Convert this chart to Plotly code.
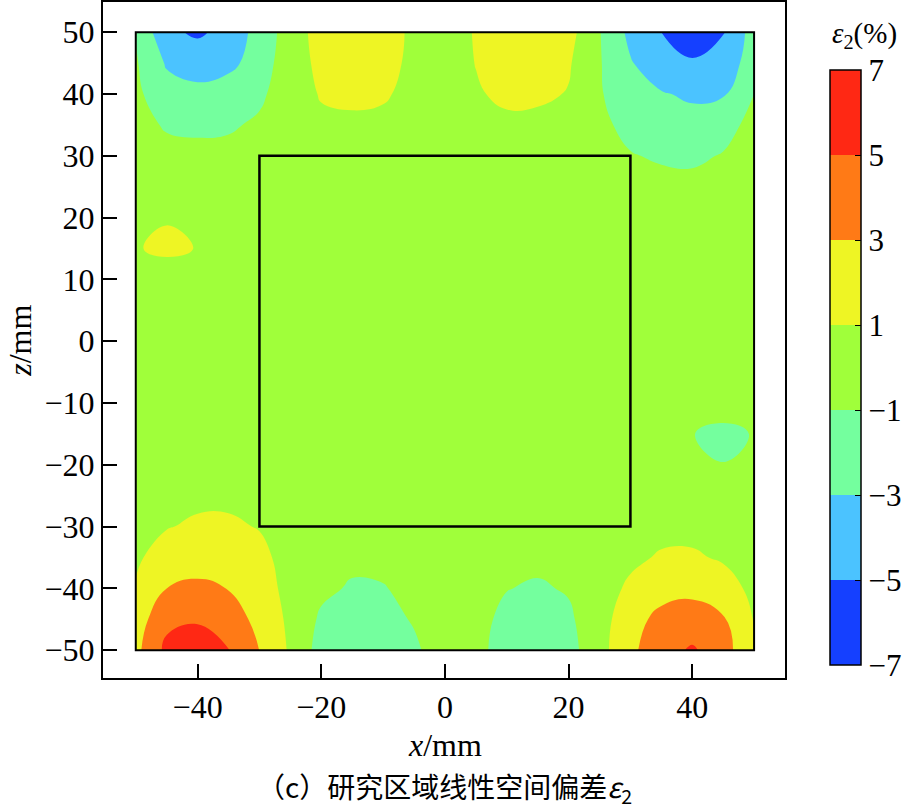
import plotly.graph_objects as go

# grid of the sample cross-section, mm
x_mm = [-50, -45, -40, -35, -30, -25, -20, -15, -10, -5, 0, 5, 10, 15, 20, 25, 30, 35, 40, 45, 50]
z_mm = [50, 45, 40, 35, 30, 25, 20, 15, 10, 5, 0, -5, -10, -15, -20, -25, -30, -35, -40, -45, -50]

# linear spatial deviation eps2 (%), one row per z (top to bottom)
eps2 = [
    [-1.1, -4.6, -5.3, -4.4, -2.2, -0.1, 1.85, 2.3, 1.8, 0.65, 0, 1.15, 2.0, 2.3, 1.7, -0.9, -3.5, -5.0, -6.5, -5.2, -2.1],
    [-0.8, -3.2, -3.8, -3.4, -2.3, 0.5, 1.25, 2.0, 1.6, 0.6, 0, 1.05, 1.8, 2.0, 1.2, -0.85, -2.85, -4.2, -4.7, -4.3, -1.9],
    [-0.6, -2.2, -2.5, -2.2, -1.3, -0.05, 1.15, 1.5, 1.2, 0.5, 0, 0.8, 1.4, 1.35, 0.9, -0.85, -2.0, -2.85, -3.3, -3.2, -1.0],
    [-0.5, -1.15, -1.25, -1.2, -0.75, -0.2, 0.6, 0.55, 0.6, 0.2, 0, 0.4, 0.6, 0.5, 0.4, -0.6, -1.5, -2.0, -2.3, -1.6, -0.5],
    [-0.2, -0.55, -0.65, -0.55, -0.3, -0.1, 0.3, 0.35, 0.3, 0.1, 0, 0.2, 0.3, 0.3, 0.2, -0.45, -0.9, -1.2, -1.3, -0.9, -0.4],
    [-0.1, -0.2, -0.3, -0.2, -0.1, 0, 0.1, 0.15, 0.1, 0, 0, 0.1, 0.1, 0.15, 0.1, -0.2, -0.35, -0.5, -0.55, -0.45, -0.2],
    [0.6, 0.9, 0.75, 0.2, 0, 0, 0, 0.05, 0, 0, 0, 0, 0, 0.05, 0, -0.1, -0.2, -0.25, -0.25, -0.2, -0.1],
    [0.9, 1.3, 0.95, 0.3, 0, 0, 0, 0, 0, 0, 0, 0, 0, 0, 0, 0, -0.1, -0.1, -0.1, -0.1, -0.1],
    [0.1, 0.2, 0.1, 0, 0, 0, 0, 0, 0, 0, 0, 0, 0, 0, 0, 0, 0, 0, 0, 0, 0],
    [0, 0, 0, 0, 0, 0, 0, 0, 0, 0, 0, 0, 0, 0, 0, 0, 0, 0, 0, 0, 0],
    [0, 0, 0, 0, 0, 0, 0, 0, 0, 0, 0, 0, 0, 0, 0, 0, 0, 0, 0, 0, 0],
    [0, 0, 0, 0, 0, 0, 0, 0, 0, 0, 0, 0, 0, 0, 0, 0, 0, 0, 0, 0, 0],
    [0, 0, 0, 0, 0, 0, 0, 0, 0, 0, 0, 0, 0, 0, 0, 0, 0, 0, 0, -0.1, 0],
    [0, 0, 0, 0, 0, 0, 0, 0, 0, 0, 0, 0, 0, 0, 0, 0, 0, -0.3, -0.95, -1.5, -0.9],
    [0, 0, 0, 0, 0, 0, 0, 0, 0, 0, 0, 0, 0, 0, 0, 0, 0, -0.2, -0.65, -0.95, -0.6],
    [0.1, 0.4, 0.6, 0.6, 0.4, 0, 0, 0, 0, 0, 0, 0, 0, 0, 0, 0, 0.1, 0.2, 0.2, 0.1, 0],
    [0.3, 0.9, 1.29, 1.3, 0.9, 0.1, -0.1, -0.2, -0.2, -0.1, 0, -0.1, -0.2, -0.2, -0.1, 0, 0.2, 0.45, 0.5, 0.3, 0.1],
    [0.7, 1.9, 2.26, 2.0, 1.55, 0.2, -0.3, -0.6, -0.5, -0.2, 0, -0.2, -0.5, -0.6, -0.4, 0, 0.6, 1.2, 1.23, 0.8, 0.3],
    [1.15, 3.0, 3.34, 2.95, 1.9, 0.4, -0.6, -1.2, -1.1, -0.5, 0, -0.4, -0.95, -1.2, -0.85, 0.1, 1.35, 2.2, 2.53, 1.8, 0.55],
    [2.0, 4.5, 4.77, 4.07, 2.4, 0.6, -1.3, -1.9, -1.6, -0.85, 0, -0.5, -1.4, -1.9, -1.3, 0.2, 2.2, 3.6, 3.85, 3.2, 0.9],
    [2.46, 5.48, 6.2, 5.08, 2.98, 0.73, -1.8, -2.3, -2.0, -1.32, 0, -0.6, -1.6, -2.3, -1.67, 0.3, 2.6, 4.2, 5.25, 3.9, 1.1],
]

levels = [-7, -5, -3, -1, 1, 3, 5, 7]
band_colors = ["#1540ff", "#4bc3ff", "#74ff9e", "#a0ff3a", "#eef524", "#ff7a16", "#ff2814"]

sample_half = 50   # outer edge of the sample
study_half = 30    # study region

serif = "Liberation Serif, Times New Roman, serif"
cjk = "Noto Sans CJK SC"

n = len(band_colors)
colorscale = []
for i, c in enumerate(band_colors):
    colorscale.append([i / n, c])
    colorscale.append([(i + 1) / n, c])

fig = go.Figure()
fig.add_trace(go.Contour(
    x=x_mm,
    y=z_mm[::-1],
    z=eps2[::-1],
    zmin=levels[0], zmax=levels[-1],
    colorscale=colorscale,
    contours=dict(start=levels[0], end=levels[-1], size=2, coloring="fill", showlines=False),
    line=dict(width=0, smoothing=1.3),
    colorbar=dict(
        x=1.066, xanchor="left", thickness=31, xpad=0, ypad=0,
        y=0.019, yanchor="bottom", len=595, lenmode="pixels",
        outlinecolor="black", outlinewidth=1.5,
        tickvals=levels, ticks="inside", ticklen=6, tickcolor="black",
        tickfont=dict(family=serif, size=31, color="black"),
    ),
    showscale=True,
))

fig.add_shape(type="rect", x0=-sample_half, x1=sample_half, y0=-sample_half, y1=sample_half,
              line=dict(color="black", width=2))
fig.add_shape(type="rect", x0=-study_half, x1=study_half, y0=-study_half, y1=study_half,
              line=dict(color="black", width=2.5))

axis_common = dict(showline=True, linecolor="black", linewidth=2, mirror=True,
                   ticks="inside", ticklen=14, tickwidth=2, tickcolor="black",
                   showgrid=False, zeroline=False,
                   tickfont=dict(family=serif, size=32, color="black"))
fig.update_xaxes(range=[-55.3, 55], tickvals=[-40, -20, 0, 20, 40], **axis_common)
fig.update_yaxes(range=[-54.5, 54.9], tickvals=list(range(-50, 51, 10)), **axis_common)

# colour bar title
fig.add_annotation(text="<i>ε</i><sub>2</sub>(%)", xref="paper", yref="paper", x=1.117, y=0.951,
                   xanchor="center", yanchor="middle", showarrow=False,
                   font=dict(family=serif, size=29, color="black"))
fig.add_annotation(text="<i>x</i>/mm", xref="paper", yref="paper", x=0.501, y=-0.099,
                   xanchor="center", yanchor="middle",
                   showarrow=False, font=dict(family=serif, size=32, color="black"))
fig.add_annotation(text="<i>z</i>/mm", xref="paper", yref="paper", x=-0.122, y=0.4985,
                   xanchor="center", yanchor="middle",
                   textangle=-90, showarrow=False, font=dict(family=serif, size=32, color="black"))
fig.add_annotation(text="（c）研究区域线性空间偏差<i>ε</i><sub>2</sub>", xref="paper", yref="paper",
                   x=0.501, y=-0.163, xanchor="center", yanchor="middle", showarrow=False,
                   font=dict(family=cjk, size=28, color="black"))

fig.update_layout(
    width=907, height=811,
    margin=dict(l=103, r=122, t=2, b=133, autoexpand=False),
    paper_bgcolor="white", plot_bgcolor="white",
    showlegend=False,
)

fig.write_html("out.html", config={"displayModeBar": False},
               post_script="document.body.style.margin='0px';")
